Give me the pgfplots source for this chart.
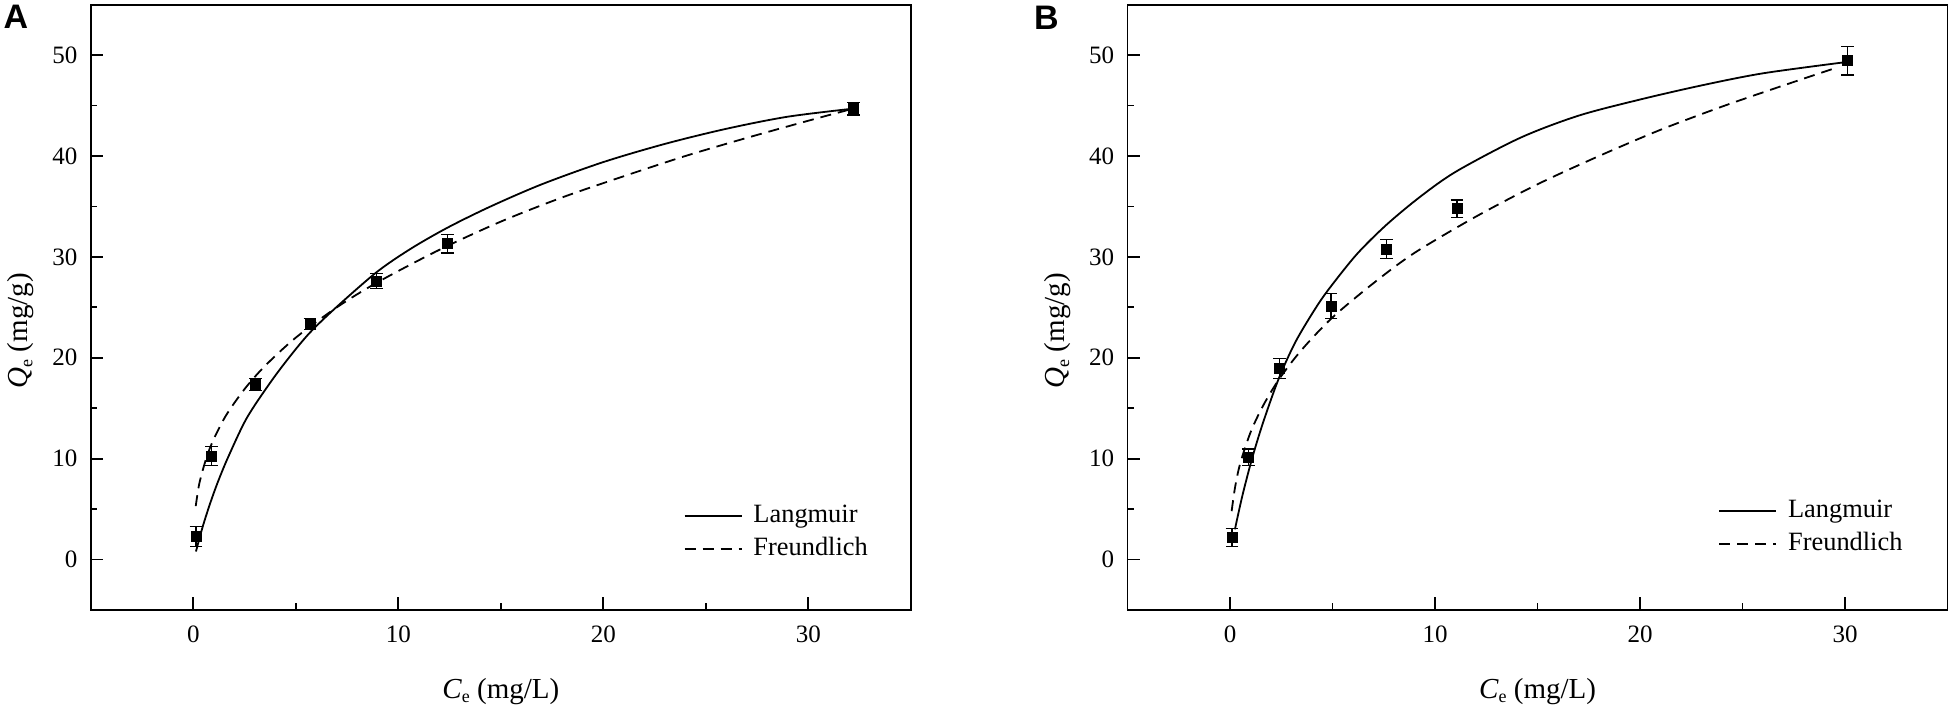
\documentclass[border=0pt]{standalone}
\usepackage{fontspec}
\setmainfont{Liberation Serif}
\newfontfamily\arialfont{Liberation Sans}
\usepackage{pgfplots}
\pgfplotsset{compat=1.18}
\usepackage{pgfplotstable}

\pgfplotstableread{
x y ey
0.13 2.26 1.00
0.89 10.26 0.93
3.04 17.33 0.60
5.69 23.33 0.55
8.95 27.60 0.72
12.4 31.30 0.92
32.2 44.70 0.63
}\dataA
\pgfplotstableread{
x y ey
0.10 2.18 0.88
0.89 10.15 0.80
2.41 18.95 1.00
4.93 25.13 1.23
7.65 30.78 0.92
11.07 34.77 0.88
30.13 49.45 1.41
}\dataB

\pgfplotsset{
  isoplot/.style={
    scale only axis, width=410pt, height=302.65pt,
    xmin=-5, xmax=35, ymin=-5, ymax=55,
    xtick={0,10,20,30}, ytick={0,10,20,30,40,50},
    minor x tick num=1, minor y tick num=1,
    tick align=inside, tick pos=left,
    major tick length=6.3pt, minor tick length=3.3pt,
    axis line style={line width=0.9pt},
    tick style={line width=0.9pt, black},
    ticklabel style={font=\fontsize{12.5}{12.5}\selectfont},
    /pgf/number format/assume math mode=true,
    xticklabel style={yshift=-4.3pt},
    yticklabel style={xshift=-3.2pt},
    label style={font=\fontsize{14.5}{14.5}\selectfont},
    xlabel={\textit{C}\raisebox{-0.35ex}{\fontsize{9}{9}\selectfont e} (mg/L)},
    ylabel={\textit{Q}\raisebox{-0.35ex}{\fontsize{9}{9}\selectfont e} (mg/g)},
    xlabel style={at={(axis description cs:0.5,-0.1459)}, anchor=base},
    ylabel style={at={(axis description cs:-0.077,0.4614)}, anchor=base},
    legend style={draw=none, fill=none, at={(axis cs:23.9,2.7)}, anchor=west,
      inner sep=0pt, font=\fontsize{13.2}{13.2}\selectfont,
      row sep=4pt, column sep=5.5pt,
      nodes={inner sep=0pt, text height=9.5pt, text depth=3pt}},
    legend cell align=left,
    legend image code/.code={\draw[#1] (0pt,0pt) -- (28.5pt,0pt);},
    curveL/.style={black, line width=0.9pt, smooth},
    curveF/.style={black, line width=0.9pt, smooth, dash pattern=on 5.5pt off 3.5pt},
    pts/.style={black, only marks, mark=square*, mark size=2.5pt,
      error bars/y dir=both, error bars/y explicit,
      error bars/error bar style={line width=0.6pt, black},
      error bars/error mark options={rotate=90, mark size=3.2pt, line width=0.6pt, black}},
  }
}

\begin{document}
\begin{tikzpicture}
\useasboundingbox (0,0) rectangle (975pt,354.5pt);

\begin{axis}[isoplot, at={(45.4pt,49.5pt)}, anchor=south west]
\addplot[pts, forget plot] table[x=x, y=y, y error=ey] {\dataA};
\addplot[curveL] coordinates {
(0.13,0.8) (0.45,3.2) (0.81,5.5) (1.2,7.7) (1.71,10.2) (2.6,14.0) (3.74,17.5)
(4.7,20.1) (5.69,22.5) (6.97,25.0) (8.95,28.5) (10.6,30.8) (12.4,32.9)
(14.5,35.0) (17,37.2) (20,39.4) (23,41.2) (26,42.7) (29,43.9) (32.2,44.7)};
\addlegendentry{Langmuir}
\addplot[curveF] coordinates {
(0.12,5.3) (0.3,7.6) (0.65,10.15) (1.0,11.95) (1.6,14.3) (2.5,16.9) (3.5,19.2)
(5,22.0) (7,25.0) (9,27.5) (12,30.7) (15,33.5) (18,35.9) (21,38.0) (24,40.0)
(27,41.8) (30,43.5) (32.0,44.6)};
\addlegendentry{Freundlich}
\end{axis}

\begin{axis}[isoplot, at={(563.75pt,49.5pt)}, anchor=south west,
  legend style={at={(axis cs:23.8,3.2)}}]
\addplot[pts, forget plot] table[x=x, y=y, y error=ey] {\dataB};
\addplot[curveL] coordinates {
(0.24,3.0) (0.6,6.3) (1.06,9.9) (1.6,13.5) (2.37,17.9) (3.2,21.6) (4.2,25.0)
(4.93,27.1) (6.2,30.3) (7.64,33.2) (9.3,36.0) (11.06,38.5) (14.15,41.8)
(17,44.0) (20,45.6) (23,47.0) (26,48.2) (30.0,49.3)};
\addlegendentry{Langmuir}
\addplot[curveF] coordinates {
(0.08,4.8) (0.25,7.2) (0.5,9.55) (1.0,12.6) (1.6,15.2) (2.4,17.9) (3.5,20.8)
(5,24.0) (7,27.4) (9,30.4) (12,34.0) (15,37.2) (18,40.0) (21,42.6) (24,44.9)
(27,47.0) (29.5,48.7)};
\addlegendentry{Freundlich}
\end{axis}

\node[anchor=north west, inner sep=0pt] at (1.65pt,352pt)
  {\arialfont\bfseries\fontsize{17}{17}\selectfont A};
\node[anchor=north west, inner sep=0pt] at (516.85pt,351.5pt)
  {\arialfont\bfseries\fontsize{17}{17}\selectfont B};
\end{tikzpicture}
\end{document}
